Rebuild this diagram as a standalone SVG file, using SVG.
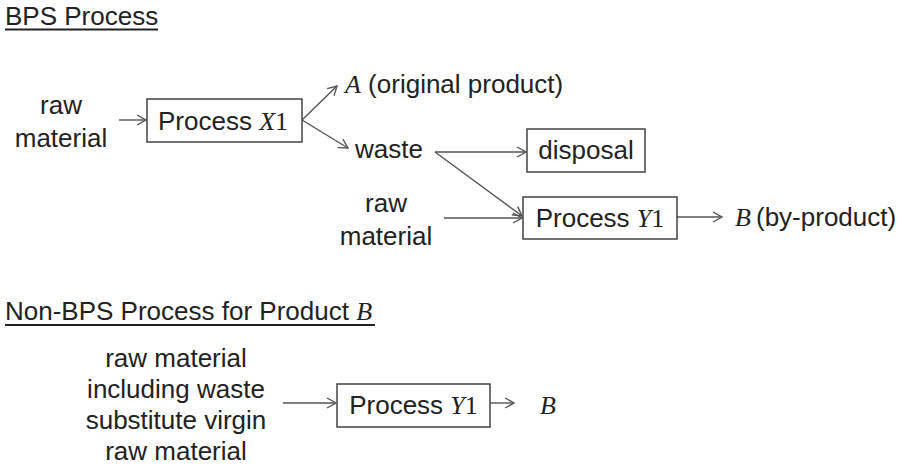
<svg xmlns="http://www.w3.org/2000/svg" width="900" height="466" viewBox="0 0 900 466">
<defs>
<style>
text{font-family:"Liberation Sans",Arial,sans-serif;font-size:26px;fill:#222}
.m{font-family:"Liberation Serif","Times New Roman",serif}
.i{font-style:italic}
.box{fill:#fff;stroke:#444;stroke-width:1.5}
.c{fill:none;stroke:#555;stroke-width:1.4}
.ul{stroke:#222;stroke-width:2}
</style>
<marker id="ah" markerUnits="userSpaceOnUse" markerWidth="14" markerHeight="14" refX="10" refY="6" orient="auto">
<path d="M1,1 L10,6 L1,11" fill="none" stroke="#555" stroke-width="1.4"/>
</marker>
</defs>
<rect width="900" height="466" fill="#fff"/>

<g id="title1">
<text x="5" y="25">BPS Process</text>
<line class="ul" x1="5" y1="29.5" x2="158" y2="29.5"/>
</g>
<g id="title2">
<text x="5" y="320">Non-BPS Process for Product <tspan class="m i">B</tspan></text>
<line class="ul" x1="5" y1="325" x2="375" y2="325"/>
</g>

<g id="connectors">
<line class="c" x1="119" y1="120" x2="146" y2="120" marker-end="url(#ah)"/>
<line class="c" x1="302" y1="120" x2="337" y2="86" marker-end="url(#ah)"/>
<line class="c" x1="302" y1="120" x2="348" y2="148" marker-end="url(#ah)"/>
<line class="c" x1="435" y1="152" x2="526" y2="152" marker-end="url(#ah)"/>
<line class="c" x1="435" y1="152" x2="522" y2="216" marker-end="url(#ah)"/>
<line class="c" x1="444" y1="218" x2="522" y2="218" marker-end="url(#ah)"/>
<line class="c" x1="677" y1="217" x2="722" y2="217" marker-end="url(#ah)"/>
<line class="c" x1="283" y1="403" x2="336" y2="403" marker-end="url(#ah)"/>
<line class="c" x1="490" y1="403" x2="514" y2="403" marker-end="url(#ah)"/>
</g>

<g id="raw1">
<text x="61" y="114" text-anchor="middle">raw</text>
<text x="61" y="147" text-anchor="middle">material</text>
</g>
<g id="processX1">
<rect class="box" x="147" y="99" width="155" height="43"/>
<text x="223" y="129.5" text-anchor="middle">Process <tspan class="m i">X</tspan><tspan class="m">1</tspan></text>
</g>
<g id="productA">
<text x="345" y="93"><tspan class="m i">A</tspan> (original product)</text>
</g>
<g id="waste">
<text x="355" y="158">waste</text>
</g>
<g id="disposal">
<rect class="box" x="527" y="129" width="118" height="43"/>
<text x="586" y="159" text-anchor="middle">disposal</text>
</g>
<g id="raw2">
<text x="386" y="212" text-anchor="middle">raw</text>
<text x="386" y="245" text-anchor="middle">material</text>
</g>
<g id="processY1">
<rect class="box" x="523" y="197" width="154" height="42"/>
<text x="600" y="227" text-anchor="middle">Process <tspan class="m i">Y</tspan><tspan class="m">1</tspan></text>
</g>
<g id="productB">
<text x="735" y="226"><tspan class="m i">B</tspan><tspan x="756">(by-product)</tspan></text>
</g>

<g id="raw3">
<text x="176" y="367" text-anchor="middle">raw material</text>
<text x="176" y="398" text-anchor="middle">including waste</text>
<text x="176" y="429" text-anchor="middle">substitute virgin</text>
<text x="176" y="460" text-anchor="middle">raw material</text>
</g>
<g id="processY1b">
<rect class="box" x="337" y="384" width="153" height="43"/>
<text x="413.5" y="414" text-anchor="middle">Process <tspan class="m i">Y</tspan><tspan class="m">1</tspan></text>
</g>
<g id="productB2">
<text x="540" y="414" class="m i">B</text>
</g>
</svg>
